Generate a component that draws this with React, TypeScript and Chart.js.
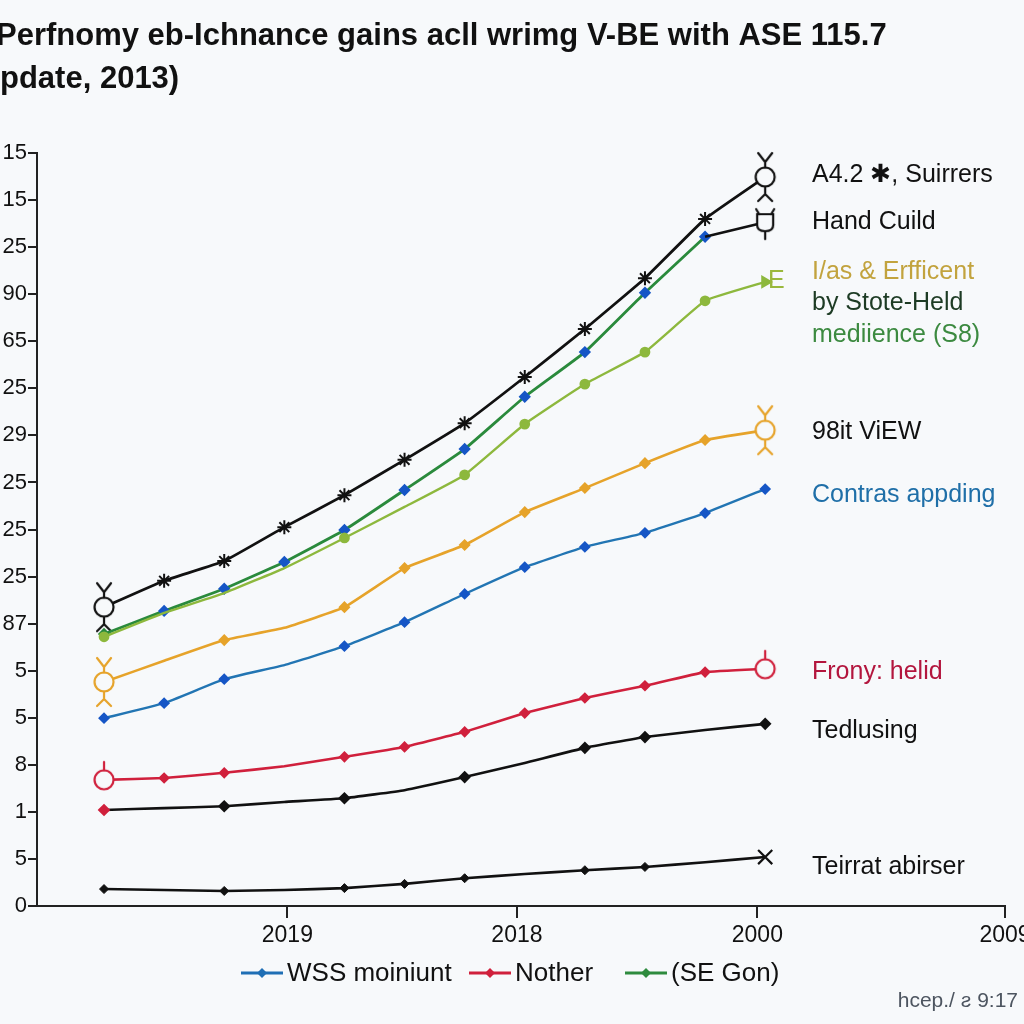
import React, { useEffect, useRef } from "react";
import { Chart, registerables } from "chart.js";

Chart.register(...registerables);

const TITLE_LINE_1 = "Perfnomy eb-Ichnance gains acll wrimg V-BE with ASE 115.7";
const TITLE_LINE_2 = "pdate, 2013)";
const FOOTER_TEXT = "hcep./ ƨ 9:17";

const POINT_INDEX = [0, 1, 2, 3, 4, 5, 6, 7, 8, 9, 10, 11];

const Y_TICK_VALUES = [0, 1, 2, 3, 4, 5, 6, 7, 8, 9, 10, 11, 12, 13, 14, 15, 16];
const Y_TICK_LABELS = ["0", "5", "1", "8", "5", "5", "87", "25", "25", "25", "29", "25", "65", "90", "25", "15", "15"];

const X_TICK_VALUES = [3.05, 6.87, 10.87, 14.99];
const X_TICK_LABELS = ["2019", "2018", "2000", "2009"];

const SUIRRERS = [6.35, 6.91, 7.33, 8.05, 8.73, 9.48, 10.26, 11.24, 12.26, 13.34, 14.6, 15.49];
const SE_GON = [5.78, 6.27, 6.74, 7.31, 7.99, 8.84, 9.71, 10.82, 11.77, 13.03, 14.22, null];
const HAND_CUILD = [null, null, null, null, null, null, null, null, null, null, 14.22, 14.53];
const ERFFICENT = [5.72, 6.23, 6.65, 7.18, 7.82, 8.48, 9.16, 10.24, 11.09, 11.77, 12.86, 13.26];
const VIEW_98IT = [4.76, 5.21, 5.65, 5.91, 6.35, 7.18, 7.67, 8.37, 8.88, 9.41, 9.9, 10.11];
const CONTRAS = [3.99, 4.31, 4.82, 5.12, 5.52, 6.03, 6.63, 7.2, 7.63, 7.93, 8.35, 8.86];
const FRONY = [2.68, 2.72, 2.83, 2.97, 3.17, 3.38, 3.7, 4.1, 4.42, 4.68, 4.97, 5.04];
const TEDLUSING = [2.04, 2.08, 2.12, 2.21, 2.29, 2.46, 2.74, 3.04, 3.36, 3.59, 3.74, 3.87];
const TEIRRAT = [0.36, 0.34, 0.32, 0.34, 0.38, 0.47, 0.59, 0.68, 0.76, 0.83, 0.93, 1.04];

const RIGHT_LABELS = [
  "A4.2 ✱, Suirrers",
  "Hand Cuild",
  "I/as & Erfficent",
  "by Stote-Held",
  "mediience (S8)",
  "98it ViEW",
  "Contras appding",
  "Frony: helid",
  "Tedlusing",
  "Teirrat abirser",
];
const RIGHT_LABEL_COLORS = ["#111", "#111", "#c2a33e", "#1d3b24", "#3c8a40", "#111", "#1f6fa8", "#b3163e", "#111", "#111"];
const RIGHT_LABEL_Y = [175, 222, 272, 303, 335, 432, 495, 672, 731, 867];

const LEGEND_LABELS = ["WSS moiniunt", "Nother", "(SE Gon)"];
const LEGEND_COLORS = ["#1f6fb5", "#d0203c", "#2e8b3e"];
const LEGEND_X = [241, 469, 625];

const BG = "#f7f9fb";
const FONT = '"Liberation Sans", Arial, sans-serif';

function makeGlyph(color: string, kind: string): HTMLCanvasElement {
  const c = document.createElement("canvas");
  c.width = 32;
  c.height = 60;
  const g = c.getContext("2d")!;
  const cx = 16;
  const cy = 30;
  g.strokeStyle = color;
  g.fillStyle = BG;
  g.lineWidth = 2.2;
  g.lineCap = "round";
  if (kind === "box") {
    g.beginPath();
    g.moveTo(cx - 8, cy - 8);
    g.lineTo(cx - 8, cy + 3);
    g.quadraticCurveTo(cx - 8, cy + 9, cx, cy + 9);
    g.quadraticCurveTo(cx + 8, cy + 9, cx + 8, cy + 3);
    g.lineTo(cx + 8, cy - 8);
    g.closePath();
    g.fill();
    g.stroke();
    g.beginPath();
    g.moveTo(cx - 9, cy - 13);
    g.lineTo(cx - 6, cy - 8);
    g.moveTo(cx + 9, cy - 13);
    g.lineTo(cx + 6, cy - 8);
    g.moveTo(cx, cy + 9);
    g.lineTo(cx, cy + 17);
    g.stroke();
    return c;
  }
  g.beginPath();
  g.arc(cx, cy, 9.5, 0, Math.PI * 2);
  g.fill();
  g.stroke();
  g.beginPath();
  if (kind === "yy") {
    g.moveTo(cx, cy - 9.5);
    g.lineTo(cx, cy - 15);
    g.lineTo(cx - 7, cy - 24);
    g.moveTo(cx, cy - 15);
    g.lineTo(cx + 7, cy - 24);
    g.moveTo(cx, cy + 9.5);
    g.lineTo(cx, cy + 17);
    g.lineTo(cx - 7, cy + 24);
    g.moveTo(cx, cy + 17);
    g.lineTo(cx + 7, cy + 24);
  } else if (kind === "stem") {
    g.moveTo(cx, cy - 9.5);
    g.lineTo(cx, cy - 18);
  }
  g.stroke();
  return c;
}

const annotationsPlugin = {
  id: "annotations",
  afterDraw(chart: any) {
    const ctx = chart.ctx as CanvasRenderingContext2D;
    ctx.save();
    // title
    ctx.fillStyle = "#111";
    ctx.textAlign = "left";
    ctx.textBaseline = "alphabetic";
    ctx.font = `bold 31px ${FONT}`;
    ctx.fillText(TITLE_LINE_1, -4, 45, 897);
    ctx.fillText(TITLE_LINE_2, 0, 88, 182);

    // right-side labels
    ctx.font = `25px ${FONT}`;
    ctx.textBaseline = "middle";
    RIGHT_LABELS.forEach((t, i) => {
      ctx.fillStyle = RIGHT_LABEL_COLORS[i];
      ctx.fillText(t, 812, RIGHT_LABEL_Y[i]);
    });
    ctx.fillStyle = "#9ab83c";
    ctx.fillText("E", 768, 281);

    // legend
    ctx.font = `26px ${FONT}`;
    const ly = 973;
    LEGEND_LABELS.forEach((t, i) => {
      const x0 = LEGEND_X[i];
      ctx.strokeStyle = LEGEND_COLORS[i];
      ctx.lineWidth = 3;
      ctx.beginPath();
      ctx.moveTo(x0, ly);
      ctx.lineTo(x0 + 42, ly);
      ctx.stroke();
      ctx.fillStyle = LEGEND_COLORS[i];
      ctx.beginPath();
      ctx.moveTo(x0 + 21, ly - 5);
      ctx.lineTo(x0 + 26, ly);
      ctx.lineTo(x0 + 21, ly + 5);
      ctx.lineTo(x0 + 16, ly);
      ctx.closePath();
      ctx.fill();
      ctx.fillStyle = "#111";
      ctx.fillText(t, x0 + 46, ly + 1);
    });

    // footer
    ctx.font = `21px ${FONT}`;
    ctx.fillStyle = "#4d5560";
    ctx.textAlign = "right";
    ctx.fillText(FOOTER_TEXT, 1018, 1001);
    ctx.restore();
  },
};

function toPoints(values: (number | null)[]) {
  return POINT_INDEX.map((x, i) => ({ x, y: values[i] }));
}

export default function App() {
  const canvasRef = useRef<HTMLCanvasElement | null>(null);

  useEffect(() => {
    const canvas = canvasRef.current;
    if (!canvas) return;

    const blackYY = makeGlyph("#111", "yy");
    const orangeYY = makeGlyph("#e6a32a", "yy");
    const redStem = makeGlyph("#d0203c", "stem");
    const blackBox = makeGlyph("#111", "box");

    const radii = (on: number[], r: number) => POINT_INDEX.map((i) => (on.includes(i) ? r : 0));

    const chart = new Chart(canvas, {
      type: "line",
      data: {
        datasets: [
          {
            label: "Teirrat abirser",
            data: toPoints(TEIRRAT),
            borderColor: "#111",
            backgroundColor: "#111",
            borderWidth: 2.6,
            pointStyle: POINT_INDEX.map((i) => (i === 11 ? "crossRot" : "rectRot")),
            pointRadius: POINT_INDEX.map((i) => (i === 11 ? 10 : [0, 2, 4, 5, 6, 8, 9].includes(i) ? 4.5 : 0)),
            pointBorderWidth: POINT_INDEX.map((i) => (i === 11 ? 2.2 : 1)),
            clip: false,
          },
          {
            label: "Tedlusing",
            data: toPoints(TEDLUSING),
            borderColor: "#111",
            borderWidth: 2.6,
            pointStyle: "rectRot",
            pointBackgroundColor: POINT_INDEX.map((i) => (i === 0 ? "#d0203c" : "#111")),
            pointBorderColor: POINT_INDEX.map((i) => (i === 0 ? "#d0203c" : "#111")),
            pointRadius: radii([0, 2, 4, 6, 8, 9, 11], 4.5),
            clip: false,
          },
          {
            label: "Frony: helid",
            data: toPoints(FRONY),
            borderColor: "#d0203c",
            borderWidth: 2.6,
            pointStyle: POINT_INDEX.map((i) => (i === 0 || i === 11 ? redStem : "rectRot")),
            pointBackgroundColor: "#d0203c",
            pointBorderColor: "#d0203c",
            pointRadius: radii([0, 1, 2, 4, 5, 6, 7, 8, 9, 10, 11], 4),
            clip: false,
          },
          {
            label: "Contras appding",
            data: toPoints(CONTRAS),
            borderColor: "#2275b3",
            borderWidth: 2.4,
            pointStyle: "rectRot",
            pointBackgroundColor: "#1656c6",
            pointBorderColor: "#1656c6",
            pointRadius: radii([0, 1, 2, 4, 5, 6, 7, 8, 9, 10, 11], 4.2),
            clip: false,
          },
          {
            label: "98it ViEW",
            data: toPoints(VIEW_98IT),
            borderColor: "#e6a32a",
            borderWidth: 2.6,
            pointStyle: POINT_INDEX.map((i) => (i === 0 || i === 11 ? orangeYY : "rectRot")),
            pointBackgroundColor: "#e6a32a",
            pointBorderColor: "#e6a32a",
            pointRadius: radii([0, 2, 4, 5, 6, 7, 8, 9, 10, 11], 4.2),
            clip: false,
          },
          {
            label: "I/as & Erfficent",
            data: toPoints(ERFFICENT),
            borderColor: "#8db83d",
            borderWidth: 2.4,
            pointStyle: POINT_INDEX.map((i) => (i === 11 ? "triangle" : "circle")),
            rotation: POINT_INDEX.map((i) => (i === 11 ? 90 : 0)),
            pointBackgroundColor: "#8db83d",
            pointBorderColor: "#8db83d",
            pointRadius: POINT_INDEX.map((i) => (i === 11 ? 5.5 : [0, 4, 6, 7, 8, 9, 10].includes(i) ? 4.2 : 0)),
            clip: false,
          },
          {
            label: "Hand Cuild",
            data: toPoints(HAND_CUILD),
            borderColor: "#111",
            borderWidth: 2.6,
            pointStyle: POINT_INDEX.map((i) => (i === 11 ? blackBox : "circle")),
            pointRadius: radii([11], 9),
            clip: false,
          },
          {
            label: "(SE Gon)",
            data: toPoints(SE_GON),
            borderColor: "#2a8a3c",
            borderWidth: 2.8,
            pointStyle: "rectRot",
            pointBackgroundColor: POINT_INDEX.map((i) => (i === 0 ? "#2a8a3c" : "#1656c6")),
            pointBorderColor: POINT_INDEX.map((i) => (i === 0 ? "#2a8a3c" : "#1656c6")),
            pointRadius: radii([0, 1, 2, 3, 4, 5, 6, 7, 8, 9, 10], 4.2),
            clip: false,
          },
          {
            label: "A4.2 ✱, Suirrers",
            data: toPoints(SUIRRERS),
            borderColor: "#111",
            borderWidth: 2.8,
            pointStyle: POINT_INDEX.map((i) => (i === 0 || i === 11 ? blackYY : "star")),
            pointBackgroundColor: "#111",
            pointBorderColor: "#111",
            pointBorderWidth: 2,
            pointRadius: 7,
            clip: false,
          },
        ],
      },
      options: {
        responsive: false,
        animation: false,
        events: [],
        layout: { padding: { top: 153, right: 19, bottom: 0, left: 0 } },
        elements: { line: { tension: 0.1 } },
        plugins: {
          legend: { display: false },
          title: { display: false },
          tooltip: { enabled: false },
        },
        scales: {
          x: {
            type: "linear",
            min: -1.115,
            max: 14.99,
            afterBuildTicks: (scale: any) => {
              scale.ticks = X_TICK_VALUES.map((value) => ({ value }));
            },
            afterFit: (scale: any) => {
              scale.height = 118;
              scale.paddingLeft = 0;
              scale.paddingRight = 0;
            },
            ticks: {
              autoSkip: false,
              maxRotation: 0,
              minRotation: 0,
              padding: 4,
              color: "#111",
              font: { family: FONT, size: 23 },
              callback: (_v: any, i: number) => X_TICK_LABELS[i],
            },
            grid: {
              drawOnChartArea: false,
              drawTicks: true,
              tickLength: 12,
              color: "#222",
              lineWidth: 2,
            },
            border: { display: true, color: "#222", width: 2 },
          },
          y: {
            type: "linear",
            min: 0,
            max: 16,
            afterBuildTicks: (scale: any) => {
              scale.ticks = Y_TICK_VALUES.map((value) => ({ value }));
            },
            afterFit: (scale: any) => {
              scale.width = 37;
            },
            ticks: {
              autoSkip: false,
              padding: 1,
              color: "#111",
              font: { family: FONT, size: 22 },
              callback: (_v: any, i: number) => Y_TICK_LABELS[i],
            },
            grid: {
              drawOnChartArea: false,
              drawTicks: true,
              tickLength: 9,
              color: "#222",
              lineWidth: 2,
            },
            border: { display: true, color: "#222", width: 2 },
          },
        },
      },
      plugins: [annotationsPlugin],
    } as any);

    return () => {
      chart.destroy();
    };
  }, []);

  return (
    <div style={{ position: "fixed", left: 0, top: 0, width: 1024, height: 1024, background: BG, overflow: "hidden" }}>
      <canvas ref={canvasRef} width={1024} height={1024} style={{ display: "block", width: 1024, height: 1024 }} />
    </div>
  );
}
